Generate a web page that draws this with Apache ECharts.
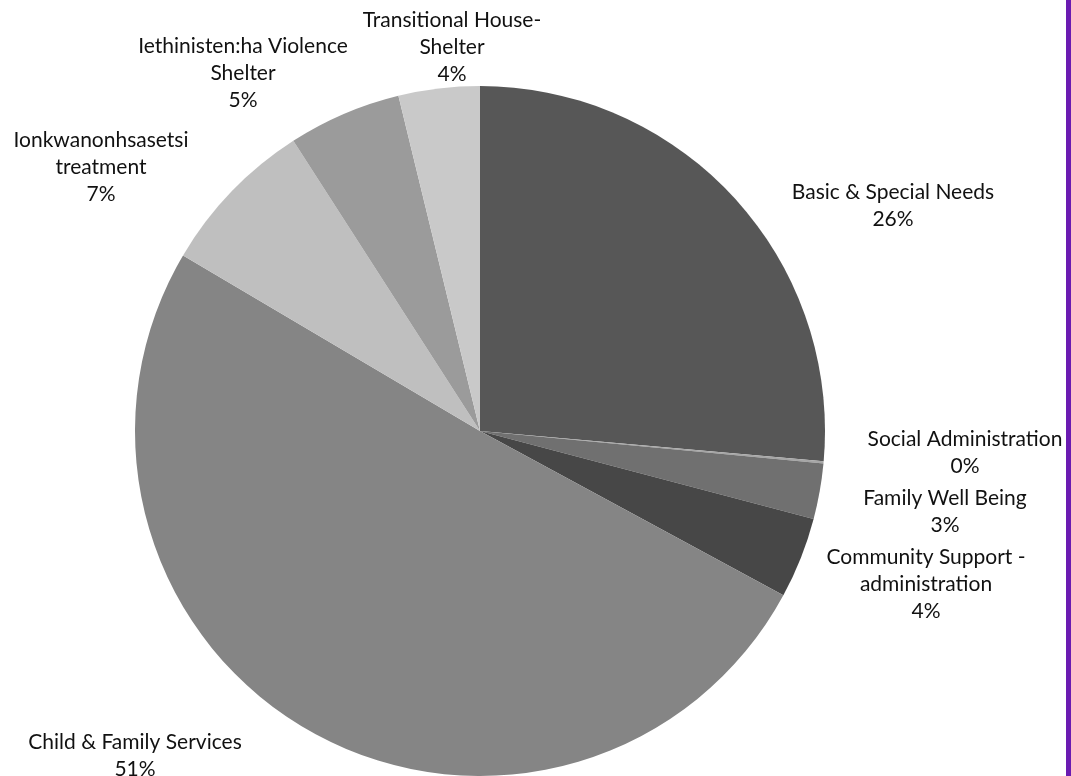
<!DOCTYPE html>
<html>
<head>
<meta charset="utf-8">
<script src="https://cdn.jsdelivr.net/npm/echarts@6/dist/echarts.min.js"></script>
<style>
  html, body { margin: 0; padding: 0; background: #ffffff; }
  #chart { width: 1071px; height: 776px; }
</style>
</head>
<body>
<div id="chart"></div>
<script>
// Budget share by program area
const categories = [
  'Basic & Special Needs',
  'Social Administration',
  'Family Well Being',
  'Community Support -\nadministration',
  'Child & Family Services',
  'Ionkwanonhsasetsi\ntreatment',
  'Iethinisten:ha Violence\nShelter',
  'Transitional House-\nShelter'
];
const shares = [26.4, 0.1, 2.6, 3.8, 50.6, 7.4, 5.3, 3.8];

// Slice fills, one per category
const sliceColors = ['#575757', '#a6a6a6', '#707070', '#474747', '#858585', '#bfbfbf', '#9b9b9b', '#c9c9c9'];

// Label anchor points (centre of each text block)
const labelAnchors = [
  [893, 206], [965, 453], [945, 512], [926, 584],
  [135, 756], [101, 167], [243, 73], [452, 47]
];

const total = shares.reduce((a, b) => a + b, 0);

const chart = echarts.init(document.getElementById('chart'));
chart.setOption({
  animation: false,
  backgroundColor: '#ffffff',
  series: [{
    type: 'pie',
    center: [480, 431],
    radius: [0, 345],
    startAngle: 90,
    clockwise: true,
    avoidLabelOverlap: false,
    silent: true,
    data: categories.map((name, i) => ({
      name: name,
      value: shares[i],
      itemStyle: { color: sliceColors[i] }
    })),
    itemStyle: { borderWidth: 0 },
    label: {
      show: true,
      position: 'outside',
      formatter: p => p.name + '\n' + Math.round(p.value / total * 100) + '%',
      fontFamily: 'Lato, "Open Sans", sans-serif',
      fontSize: 21,
      lineHeight: 27,
      color: '#111111',
      align: 'center'
    },
    labelLine: { show: false },
    labelLayout: params => ({
      x: labelAnchors[params.dataIndex][0],
      y: labelAnchors[params.dataIndex][1],
      align: 'center',
      verticalAlign: 'middle'
    })
  }],
  graphic: [{
    type: 'rect',
    shape: { x: 1066, y: 0, width: 5, height: 776 },
    style: { fill: '#6a1bb1' }
  }]
});
</script>
</body>
</html>
